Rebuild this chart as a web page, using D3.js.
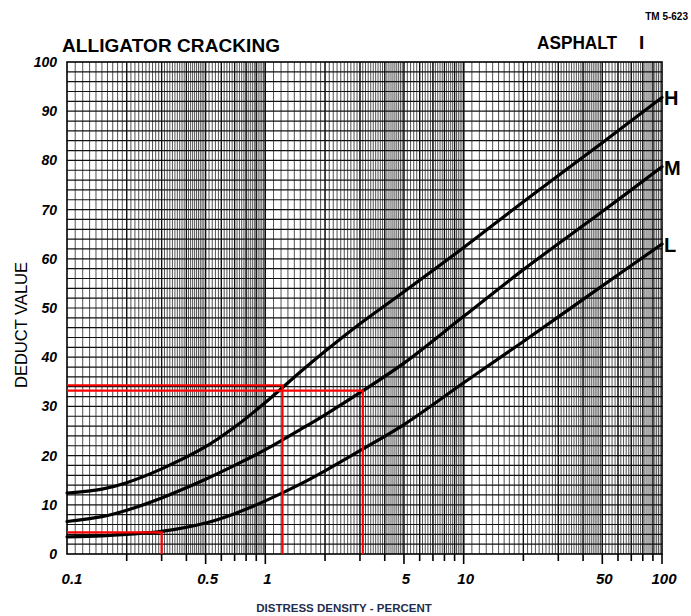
<!DOCTYPE html>
<html>
<head>
<meta charset="utf-8">
<script src="https://cdn.jsdelivr.net/npm/d3@7"></script>
<style>
  html, body { margin: 0; padding: 0; background: #fff; }
  svg { display: block; }
</style>
</head>
<body>
<svg id="chart" width="691" height="616"></svg>
<script>
// ---- Data ----
const densities    = [0.1, 0.15, 0.2, 0.3, 0.5, 0.7, 1, 1.5, 2, 3, 5, 10, 20, 50, 100];
const highValues   = [12.4, 13.2, 14.5, 17.3, 21.8, 25.8, 30.8, 37.0, 41.2, 46.8, 53.3, 62.3, 71.6, 83.6, 92.8];
const mediumValues = [6.6, 7.6, 8.9, 11.4, 15.2, 18.0, 21.2, 25.3, 28.3, 32.8, 38.8, 48.3, 57.8, 69.6, 78.7];
const lowValues    = [3.5, 3.7, 4.0, 4.6, 6.3, 8.2, 10.8, 14.2, 16.9, 21.0, 26.3, 34.8, 43.2, 54.5, 63.0];
const severityLabels = ["H", "M", "L"];
const xTickLabels = [0.1, 0.5, 1, 5, 10, 50, 100];
const yTickLabels = [0, 10, 20, 30, 40, 50, 60, 70, 80, 90, 100];
// red worked-example guide lines: density, deduct value
const guideDensities = [0.3, 1.22, 3.1];
const guideValues    = [4.4, 34.3, 33.2];

// ---- Layout ----
const svg = d3.select("#chart");
const X0 = 67, X1 = 662, Y0 = 62, Y1 = 554;
const x = d3.scaleLog().domain([0.1, 100]).range([X0, X1]);
const y = d3.scaleLinear().domain([0, 100]).range([Y1, Y0]);

// ---- Grid ----
const grid = svg.append("g");
const minorX = [];
const majorX = [];
[0.1, 1, 10].forEach(d => {
  for (let m = 1; m <= 10; m++) majorX.push(+(m * d).toPrecision(6));
  const add = (a, b, s) => {
    for (let v = a; v < b - 1e-9; v += s) minorX.push(+(v * d).toPrecision(6));
  };
  add(1, 2, 0.1);
  add(2, 5, 0.1);
  add(5, 10, 0.2);
});
grid.selectAll("line.minx").data(minorX.filter(v => v > 0.1 && v < 100)).join("line")
  .attr("x1", d => x(d)).attr("x2", d => x(d))
  .attr("y1", Y0).attr("y2", Y1)
  .attr("stroke", "#333").attr("stroke-width", 0.85);
grid.selectAll("line.majx").data(majorX.filter(v => v > 0.1 && v < 100)).join("line")
  .attr("x1", d => x(d)).attr("x2", d => x(d))
  .attr("y1", Y0).attr("y2", Y1)
  .attr("stroke", "#111").attr("stroke-width", 1.3);
grid.selectAll("line.hy").data(d3.range(2, 100, 2)).join("line")
  .attr("x1", X0).attr("x2", X1)
  .attr("y1", d => y(d)).attr("y2", d => y(d))
  .attr("stroke", "#111").attr("stroke-width", 1.2);

// border
svg.append("rect").attr("x", X0).attr("y", Y0)
  .attr("width", X1 - X0).attr("height", Y1 - Y0)
  .attr("fill", "none").attr("stroke", "#000").attr("stroke-width", 1.6);

// ---- Bottom ticks ----
const tickVals = [];
[0.1, 1, 10].forEach(d => { for (let m = 2; m <= 10; m++) tickVals.push(+(m * d).toPrecision(6)); });
svg.append("g").selectAll("line").data(tickVals).join("line")
  .attr("x1", d => x(d)).attr("x2", d => x(d))
  .attr("y1", Y1).attr("y2", d => (xTickLabels.includes(d) ? Y1 + 10 : Y1 + 7))
  .attr("stroke", "#000").attr("stroke-width", 1.6);

// ---- Tick labels ----
const labFont = "'Liberation Sans', Arial, sans-serif";
svg.append("g").selectAll("text").data(xTickLabels).join("text")
  .attr("x", d => x(d) + (d === 0.1 ? 5 : 2))
  .attr("y", 584)
  .attr("text-anchor", "middle")
  .attr("font-family", labFont).attr("font-size", 15)
  .attr("font-style", "italic").attr("font-weight", "bold")
  .attr("fill", "#000")
  .text(d => d);
svg.append("g").selectAll("text").data(yTickLabels).join("text")
  .attr("x", 57)
  .attr("y", d => y(d) + 5)
  .attr("text-anchor", "end")
  .attr("font-family", labFont).attr("font-size", 14)
  .attr("font-style", "italic").attr("font-weight", "bold")
  .attr("fill", "#000")
  .text(d => d);

// ---- Curves ----
const line = d3.line()
  .x(d => x(d[0])).y(d => y(d[1]))
  .curve(d3.curveCatmullRom.alpha(0.5));
const series = [highValues, mediumValues, lowValues];
svg.append("g").selectAll("path").data(series).join("path")
  .attr("d", vals => line(densities.map((dd, i) => [dd, vals[i]])))
  .attr("fill", "none").attr("stroke", "#000").attr("stroke-width", 3.2)
  .attr("stroke-linecap", "round");

svg.append("g").selectAll("text").data(severityLabels).join("text")
  .attr("x", 664)
  .attr("y", (d, i) => y(series[i][series[i].length - 1]) + 8)
  .attr("font-family", labFont).attr("font-size", 20).attr("font-weight", "bold")
  .attr("fill", "#000")
  .text(d => d);

// ---- Red guide lines ----
const red = svg.append("g").attr("fill", "none").attr("stroke", "#ff0000").attr("stroke-width", 2.2);
guideDensities.forEach((dd, i) => {
  red.append("path")
    .attr("d", d3.line()([[X0, y(guideValues[i])], [x(dd), y(guideValues[i])], [x(dd), Y1]]));
});

// ---- Titles ----
svg.append("text").attr("x", 62).attr("y", 52)
  .attr("font-family", labFont).attr("font-size", 19).attr("font-weight", "bold")
  .attr("textLength", 218).attr("lengthAdjust", "spacing")
  .text("ALLIGATOR CRACKING");
svg.append("text").attr("x", 537).attr("y", 49)
  .attr("font-family", labFont).attr("font-size", 19).attr("font-weight", "bold")
  .attr("textLength", 80).attr("lengthAdjust", "spacingAndGlyphs")
  .text("ASPHALT");
svg.append("text").attr("x", 639).attr("y", 49)
  .attr("font-family", labFont).attr("font-size", 19).attr("font-weight", "bold")
  .text("I");
svg.append("text").attr("x", 688).attr("y", 20)
  .attr("text-anchor", "end")
  .attr("font-family", labFont).attr("font-size", 10).attr("font-weight", "bold")
  .text("TM 5-623");
svg.append("text").attr("x", 344).attr("y", 612)
  .attr("text-anchor", "middle")
  .attr("font-family", labFont).attr("font-size", 11.5).attr("font-weight", "bold")
  .attr("fill", "#1f2d4d")
  .text("DISTRESS DENSITY - PERCENT");
svg.append("text")
  .attr("transform", "translate(27,325) rotate(-90)")
  .attr("text-anchor", "middle")
  .attr("font-family", labFont).attr("font-size", 16)
  .attr("textLength", 126).attr("lengthAdjust", "spacingAndGlyphs")
  .text("DEDUCT VALUE");
</script>
</body>
</html>
